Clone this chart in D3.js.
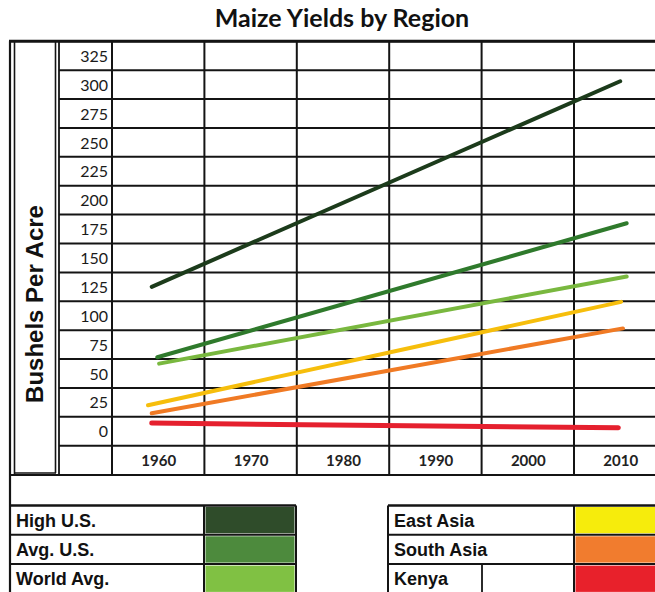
<!DOCTYPE html>
<html>
<head>
<meta charset="utf-8">
<script src="https://cdn.jsdelivr.net/npm/d3@7"></script>
<style>
  html, body { margin: 0; padding: 0; background: #fff; }
  svg { display: block; }
</style>
</head>
<body>
<svg id="chart" width="655" height="592"></svg>
<script>
// ---- data ----
const title = "Maize Yields by Region";
const yTitle = "Bushels Per Acre";
const yTicks = [325, 300, 275, 250, 225, 200, 175, 150, 125, 100, 75, 50, 25, 0];
const xTicks = [1960, 1970, 1980, 1990, 2000, 2010];
const seriesNames = ["High U.S.", "Avg. U.S.", "World Avg.", "East Asia", "South Asia", "Kenya"];
const lineColors = ["#1c3b1b", "#2f7a2c", "#79b83f", "#f6be0c", "#f07a24", "#e5202e"];
const swatchColors = ["#2f4c2a", "#4d8a3d", "#80c143", "#f6ec0c", "#f17c2e", "#e8212b"];
const highUS = [[1959.3, 125], [2010, 303]];
const avgUS = [[1959.9, 64], [2010.7, 180]];
const worldAvg = [[1960.1, 58.5], [2010.7, 134]];
const eastAsia = [[1958.9, 22.5], [2010.1, 112]];
const southAsia = [[1959.3, 15.5], [2010.3, 89]];
const kenya = [[1959.3, 7], [2009.8, 3]];
const seriesData = [highUS, avgUS, worldAvg, eastAsia, southAsia, kenya];

// ---- layout ----
const svg = d3.select("#chart");
const x = d3.scaleLinear().domain([1955, 2015]).range([112, 666.4]);
const y = d3.scaleLinear().domain([0, 325]).range([431.2, 55.8]);
const step = 25;
const gridTop = y(325 + step / 2);
const gridBottomVal = y(0 - step / 2);
const rowH = y(0) - y(step);
const xRowBottom = gridBottomVal + rowH + 0.5;

const ink = "#141414";

// title
svg.append("text")
  .attr("x", 342).attr("y", 27)
  .attr("text-anchor", "middle")
  .attr("font-family", "Lato, 'Open Sans', sans-serif")
  .attr("font-weight", 700)
  .attr("font-size", 25)
  .attr("fill", "#111")
  .text(title);

const g = svg.append("g");

// horizontal grid lines (row boundaries)
const rowBounds = yTicks.map(v => v + step / 2).concat([-step / 2]);
g.selectAll("line.h").data(rowBounds).join("line")
  .attr("x1", 59).attr("x2", 655)
  .attr("y1", d => y(d)).attr("y2", d => y(d))
  .attr("stroke", ink).attr("stroke-width", 2);

// bottom of x label row
g.append("line").attr("x1", 10).attr("x2", 655)
  .attr("y1", xRowBottom).attr("y2", xRowBottom)
  .attr("stroke", ink).attr("stroke-width", 2.2);

// top outer line
g.append("line").attr("x1", 9).attr("x2", 655)
  .attr("y1", gridTop).attr("y2", gridTop)
  .attr("stroke", ink).attr("stroke-width", 3);

// vertical column lines
const colBounds = d3.range(1955, 2016, 10);
g.selectAll("line.v").data(colBounds).join("line")
  .attr("x1", d => x(d)).attr("x2", d => x(d))
  .attr("y1", gridTop).attr("y2", xRowBottom)
  .attr("stroke", ink).attr("stroke-width", 2);

// left structural lines
[[10, gridTop, 592, 2.2], [14.5, gridTop, xRowBottom, 1.6], [55.5, gridTop, xRowBottom - 2, 1.6], [59, gridTop, xRowBottom, 1.8]]
  .forEach(([lx, y1, y2, w]) => {
    g.append("line").attr("x1", lx).attr("x2", lx).attr("y1", y1).attr("y2", y2)
      .attr("stroke", ink).attr("stroke-width", w);
  });
g.append("line").attr("x1", 14.5).attr("x2", 56).attr("y1", xRowBottom - 2).attr("y2", xRowBottom - 2)
  .attr("stroke", ink).attr("stroke-width", 1.4);

// y tick labels via axis
const yAxis = d3.axisLeft(y).tickValues(yTicks).tickSize(0).tickPadding(0);
const ya = svg.append("g").attr("transform", "translate(108,0)").call(yAxis);
ya.select(".domain").remove();
ya.selectAll("text")
  .attr("font-family", "Lato, 'Open Sans', sans-serif")
  .attr("font-size", 16)
  .attr("fill", "#1a1a1a")
  .attr("dy", "0.35em");

// x tick labels via axis
const xAxis = d3.axisBottom(x).tickValues(xTicks).tickFormat(d3.format("d")).tickSize(0).tickPadding(0);
const xa = svg.append("g").attr("transform", `translate(0,${(gridBottomVal + xRowBottom) / 2})`).call(xAxis);
xa.select(".domain").remove();
xa.selectAll("text")
  .attr("font-family", "Lato, 'Open Sans', sans-serif")
  .attr("font-size", 15)
  .attr("font-weight", 700)
  .attr("fill", "#222")
  .attr("dy", "0.35em");

// y axis title
svg.append("text")
  .attr("transform", `translate(43,304) rotate(-90)`)
  .attr("text-anchor", "middle")
  .attr("font-family", "'Liberation Sans', Arial, sans-serif")
  .attr("font-weight", 700)
  .attr("font-size", 24)
  .attr("fill", "#111")
  .text(yTitle);

// series lines
const line = d3.line().x(d => x(d[0])).y(d => y(d[1]));
svg.append("g").selectAll("path").data(seriesData).join("path")
  .attr("d", line)
  .attr("fill", "none")
  .attr("stroke", (d, i) => lineColors[i])
  .attr("stroke-width", (d, i) => i === 5 ? 5 : 4)
  .attr("stroke-linecap", "round");

// ---- legend ----
const legTop = 505.5;
const legRowH = 29.3;
const legends = [
  { x0: 10, x1: 204, x2: 296, items: [0, 1, 2] },
  { x0: 388, x1: 574, x2: 660, items: [3, 4, 5] }
];
const lg = svg.append("g");
legends.forEach(L => {
  L.items.forEach((si, r) => {
    const ty = legTop + r * legRowH;
    lg.append("rect")
      .attr("x", L.x1 + 1.5).attr("y", ty + 1.5)
      .attr("width", L.x2 - L.x1 - 3).attr("height", legRowH - 3)
      .attr("fill", swatchColors[si]);
    lg.append("text")
      .attr("x", L.x0 + 6).attr("y", ty + legRowH / 2)
      .attr("dy", "0.36em")
      .attr("font-family", "'Liberation Sans', Arial, sans-serif")
      .attr("font-weight", 700)
      .attr("font-size", 18)
      .attr("fill", "#111")
      .text(seriesNames[si]);
  });
  // row lines
  d3.range(0, 4).forEach(r => {
    const ly = legTop + r * legRowH;
    lg.append("line").attr("x1", L.x0).attr("x2", L.x2)
      .attr("y1", ly).attr("y2", ly)
      .attr("stroke", ink).attr("stroke-width", r === 0 ? 2.6 : 2);
  });
  [L.x0, L.x1, L.x2].forEach(vx => {
    lg.append("line").attr("x1", vx).attr("x2", vx)
      .attr("y1", legTop).attr("y2", 592)
      .attr("stroke", ink).attr("stroke-width", 2);
  });
});
// extra divider in Kenya row
lg.append("line").attr("x1", 482).attr("x2", 482)
  .attr("y1", legTop + 2 * legRowH).attr("y2", 592)
  .attr("stroke", ink).attr("stroke-width", 1.8);
</script>
</body>
</html>
